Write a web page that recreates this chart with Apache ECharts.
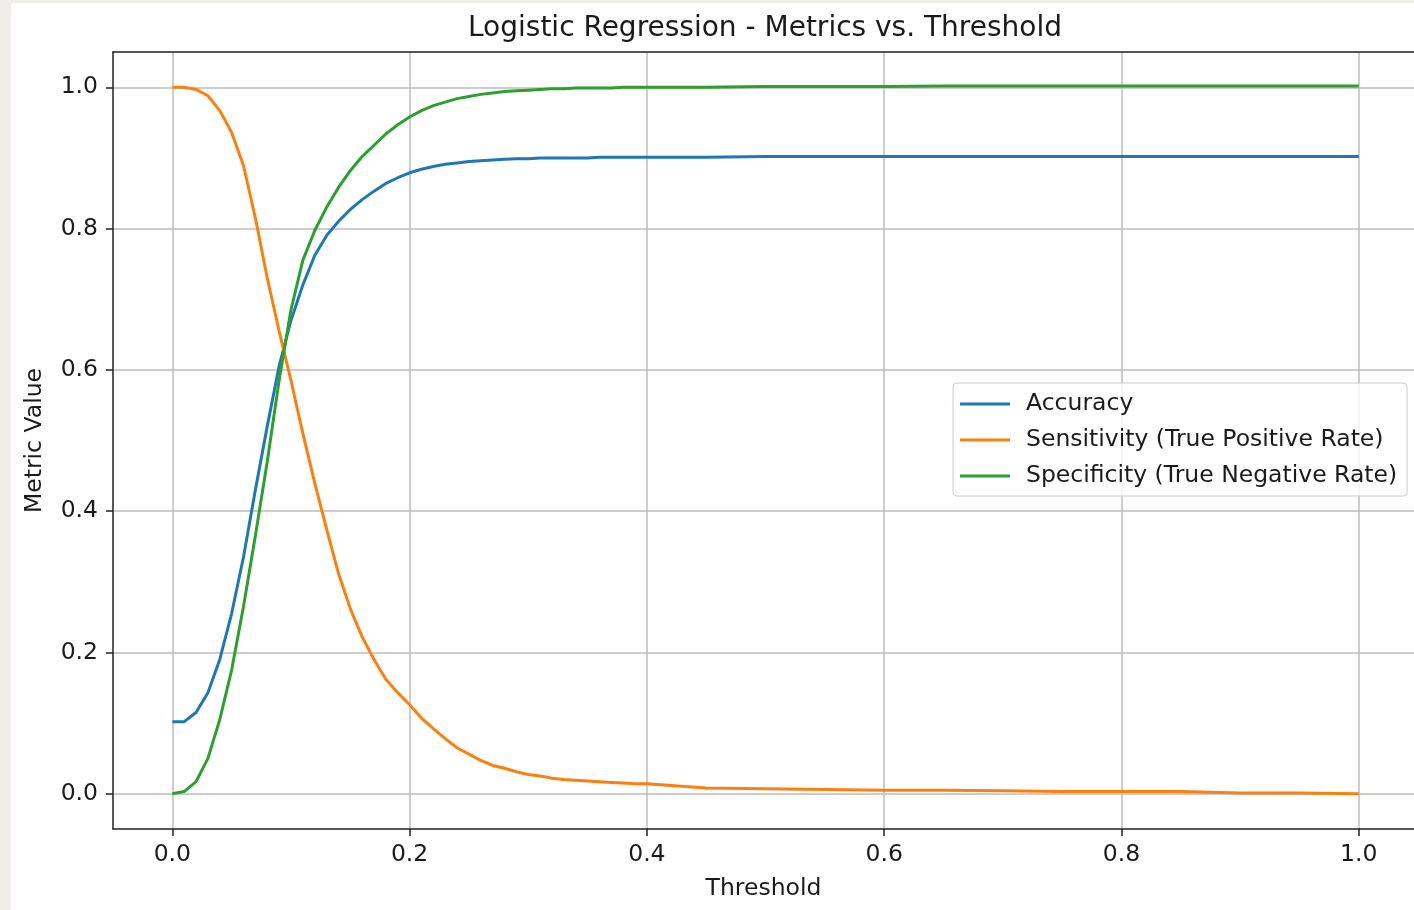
<!DOCTYPE html>
<html>
<head>
<meta charset="utf-8">
<title>Logistic Regression - Metrics vs. Threshold</title>
<script src="https://cdn.jsdelivr.net/npm/echarts@6/dist/echarts.min.js"></script>
<style>
  html, body {
    margin: 0;
    padding: 0;
    background: #efeeea;
    overflow: hidden;
  }
  #chart {
    position: absolute;
    left: 11px;
    top: 3px;
    width: 1403px;
    height: 907px;
    background: #ffffff;
  }
</style>
</head>
<body>
<div id="chart"></div>
<script>
// thresholds (dense where the curves move, sparse on the flat tail)
const thresholds = [
  0.00, 0.01, 0.02, 0.03, 0.04, 0.05, 0.06, 0.07, 0.08, 0.09,
  0.10, 0.11, 0.12, 0.13, 0.14, 0.15, 0.16, 0.17, 0.18, 0.19,
  0.20, 0.21, 0.22, 0.23, 0.24, 0.25, 0.26, 0.27, 0.28, 0.29,
  0.30, 0.31, 0.32, 0.33, 0.34, 0.35, 0.36, 0.37, 0.38, 0.39,
  0.40, 0.45, 0.50, 0.55, 0.60, 0.65, 0.70, 0.75, 0.80, 0.85,
  0.90, 0.95, 1.00
];

const accuracy = [
  0.102, 0.102, 0.115, 0.143, 0.190, 0.255, 0.335, 0.430, 0.520, 0.605,
  0.670, 0.720, 0.762, 0.790, 0.810, 0.827, 0.841, 0.853, 0.864, 0.872,
  0.879, 0.884, 0.888, 0.891, 0.893, 0.895, 0.896, 0.897, 0.898, 0.899,
  0.899, 0.900, 0.900, 0.900, 0.900, 0.900, 0.901, 0.901, 0.901, 0.901,
  0.901, 0.901, 0.902, 0.902, 0.902, 0.902, 0.902, 0.902, 0.902, 0.902,
  0.902, 0.902, 0.902
];

const sensitivity = [
  1.000, 1.000, 0.997, 0.988, 0.967, 0.936, 0.889, 0.815, 0.730, 0.655,
  0.585, 0.510, 0.440, 0.375, 0.312, 0.262, 0.222, 0.190, 0.162, 0.143,
  0.126, 0.107, 0.092, 0.078, 0.065, 0.056, 0.047, 0.040, 0.036, 0.031,
  0.027, 0.025, 0.022, 0.020, 0.019, 0.018, 0.017, 0.016, 0.015, 0.014,
  0.014, 0.008, 0.007, 0.006, 0.005, 0.005, 0.004, 0.003, 0.003, 0.003,
  0.001, 0.001, 0.000
];

const specificity = [
  0.000, 0.003, 0.017, 0.050, 0.105, 0.175, 0.265, 0.365, 0.470, 0.585,
  0.685, 0.755, 0.797, 0.830, 0.858, 0.882, 0.902, 0.918, 0.934, 0.947,
  0.958, 0.967, 0.974, 0.979, 0.984, 0.987, 0.990, 0.992, 0.994, 0.995,
  0.996, 0.997, 0.998, 0.998, 0.999, 0.999, 0.999, 0.999, 1.000, 1.000,
  1.000, 1.000, 1.001, 1.001, 1.001, 1.002, 1.002, 1.002, 1.002, 1.002,
  1.002, 1.002, 1.002
];

const xTicks = [0.0, 0.2, 0.4, 0.6, 0.8, 1.0];
const yTicks = [0.0, 0.2, 0.4, 0.6, 0.8, 1.0];

const seriesNames = [
  "Accuracy",
  "Sensitivity (True Positive Rate)",
  "Specificity (True Negative Rate)"
];
const colors = ["#1f77b4", "#ff7f0e", "#2ca02c"];

const font = "DejaVu Sans";
const ink = "#1a1a1a";
const labelSize = 23.5;

function pairs(values) {
  return thresholds.map(function (t, i) { return [t, values[i]]; });
}

let myChart = echarts.init(document.getElementById("chart"), null, { renderer: "canvas" });

let option = {
  animation: false,
  color: colors,
  title: {
    text: "Logistic Regression - Metrics vs. Threshold",
    left: 749,
    top: 7,
    textAlign: "center",
    textStyle: {
      fontFamily: font,
      fontSize: 28,
      fontWeight: "normal",
      color: ink
    }
  },
  legend: {
    orient: "vertical",
    left: 942,
    top: 380,
    padding: [9, 10, 8, 7],
    icon: "rect",
    itemWidth: 50,
    itemHeight: 3,
    itemGap: 12,
    backgroundColor: "rgba(255,255,255,0.8)",
    borderColor: "#cccccc",
    borderWidth: 1,
    borderRadius: 4,
    textStyle: {
      fontFamily: font,
      fontSize: labelSize,
      lineHeight: 23.5,
      color: ink,
      padding: [0, 0, 0, 11]
    },
    data: seriesNames
  },
  grid: {
    left: 102,
    right: 0,
    top: 49,
    bottom: 81,
    containLabel: false
  },
  xAxis: [
    {
      type: "value",
      min: -0.05,
      max: 1.0466,
      name: "Threshold",
      nameLocation: "middle",
      nameGap: 48,
      nameTextStyle: { fontFamily: font, fontSize: labelSize, color: ink },
      axisLine: { show: true, onZero: false, lineStyle: { color: "#222", width: 1.5 } },
      axisTick: { show: true, length: 7, customValues: xTicks, lineStyle: { color: "#222", width: 1.5 } },
      axisLabel: {
        customValues: xTicks,
        margin: 14,
        fontFamily: font,
        fontSize: labelSize,
        color: ink,
        formatter: function (v) { return v.toFixed(1); }
      },
      splitLine: { show: true, lineStyle: { color: "#bdbdbd", width: 1.5 } }
    },
    {
      type: "value",
      position: "top",
      min: -0.05,
      max: 1.0466,
      axisLine: { show: true, onZero: false, lineStyle: { color: "#222", width: 1.5 } },
      axisTick: { show: false },
      axisLabel: { show: false },
      splitLine: { show: false }
    }
  ],
  yAxis: {
    type: "value",
    min: -0.05,
    max: 1.05,
    name: "Metric Value",
    nameLocation: "middle",
    nameGap: 66,
    nameTextStyle: { fontFamily: font, fontSize: labelSize, color: ink },
    axisLine: { show: true, onZero: false, lineStyle: { color: "#222", width: 1.5 } },
    axisTick: { show: true, length: 7, customValues: yTicks, lineStyle: { color: "#222", width: 1.5 } },
    axisLabel: {
      customValues: yTicks,
      margin: 15,
      fontFamily: font,
      fontSize: labelSize,
      color: ink,
      formatter: function (v) { return v.toFixed(1); }
    },
    splitLine: { show: true, lineStyle: { color: "#bdbdbd", width: 1.5 } }
  },
  series: [
    {
      name: seriesNames[0],
      type: "line",
      symbol: "none",
      lineStyle: { width: 3, color: colors[0] },
      data: pairs(accuracy)
    },
    {
      name: seriesNames[1],
      type: "line",
      symbol: "none",
      lineStyle: { width: 3, color: colors[1] },
      data: pairs(sensitivity)
    },
    {
      name: seriesNames[2],
      type: "line",
      symbol: "none",
      lineStyle: { width: 3, color: colors[2] },
      data: pairs(specificity)
    }
  ]
};

myChart.setOption(option);
window.addEventListener("resize", function () {
  myChart.resize();
});
</script>
</body>
</html>
